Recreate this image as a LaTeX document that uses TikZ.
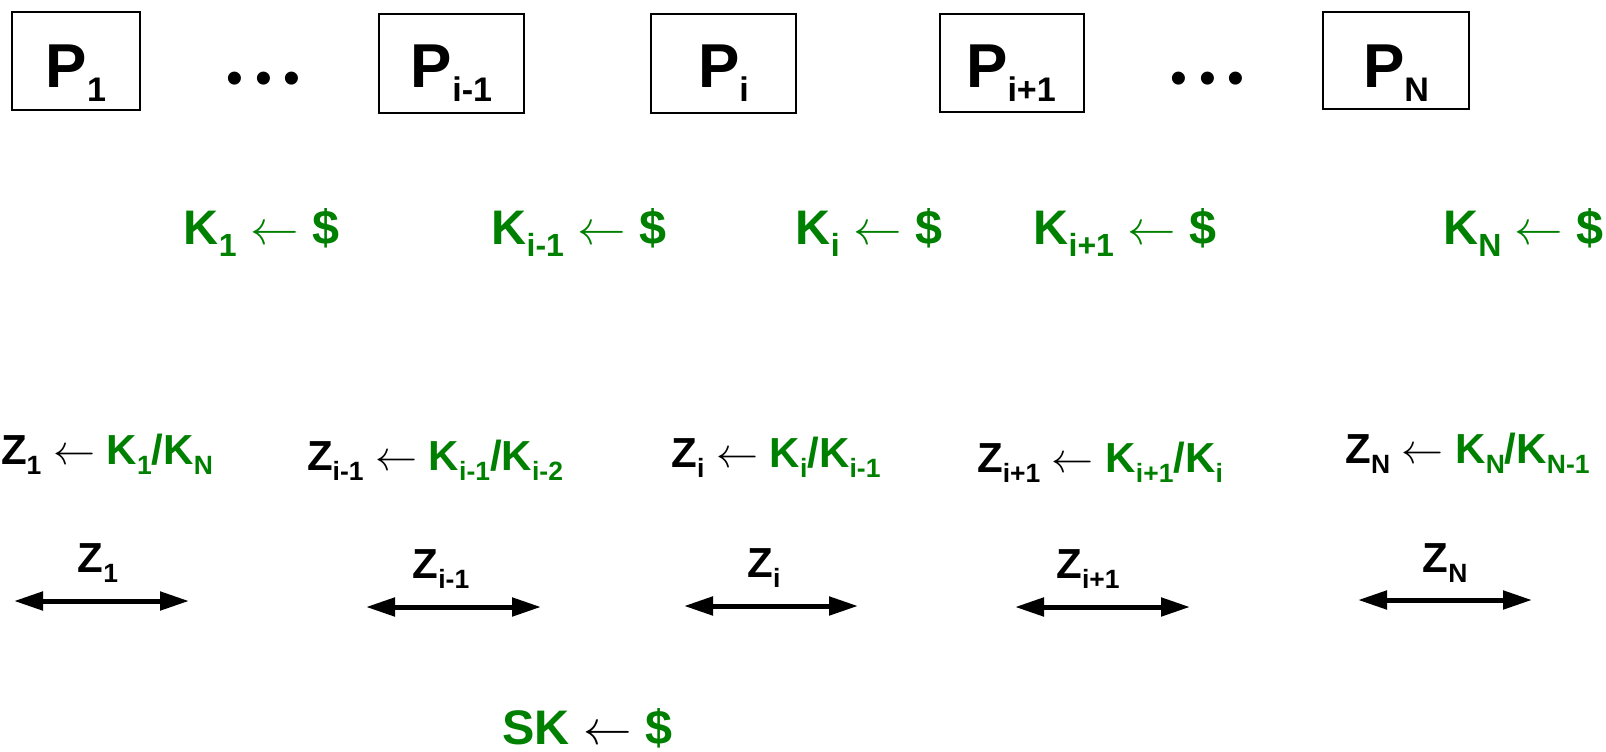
\RequirePackage{fix-cm}
\documentclass[tikz,border=0pt]{standalone}
\usepackage{fontspec}
\setmainfont{Liberation Sans}
\usepackage{graphicx}
\usetikzlibrary{arrows.meta}
\definecolor{pgreen}{RGB}{0,128,0}
\newcommand{\lsub}[3]{\raisebox{-#1em}{\scalebox{#2}{#3}}}
\newcommand{\psb}[1]{\lsub{0.23}{0.55}{#1}}
\newcommand{\ksb}[1]{\lsub{0.25}{0.66}{#1}}
\newcommand{\zsb}[1]{\lsub{0.26}{0.63}{#1}}
\newcommand{\larr}{$\leftarrow$}
\newcommand{\threedots}{•\hspace{0.24em}•\hspace{0.24em}•}
\tikzset{
  pbox/.style={draw, line width=2.5pt, rectangle, inner sep=0pt},
  ptext/.style={anchor=base, inner sep=0pt, font=\fontsize{62}{66}\selectfont\bfseries},
  dotstext/.style={anchor=base, inner sep=0pt, font=\fontsize{48}{52}\selectfont},
  ktext/.style={anchor=base, inner sep=0pt, text=pgreen, font=\fontsize{48.5}{52}\selectfont\bfseries},
  ztext/.style={anchor=base, inner sep=0pt, font=\fontsize{42}{46}\selectfont\bfseries},
  link/.style={line width=5pt, {Triangle[length=29pt,width=18pt]}-{Triangle[length=29pt,width=18pt]}}
}
\begin{document}
\begin{tikzpicture}[x=1pt,y=-1pt]
\path[use as bounding box, fill=white] (0,0) rectangle (1606,752);
% boxes
\node[pbox, minimum width=128pt, minimum height=98pt] (b1) at (76,61) {};
\node[pbox, minimum width=145pt, minimum height=99pt] (b2) at (451.5,63.5) {};
\node[pbox, minimum width=145pt, minimum height=99pt] (b3) at (723.5,63.5) {};
\node[pbox, minimum width=144pt, minimum height=98pt] (b4) at (1012,63) {};
\node[pbox, minimum width=146pt, minimum height=97pt] (b5) at (1396,60.5) {};
\node[ptext] (t1) at (76,87) {P\psb{1}};
\node[ptext] (t2) at (451.5,87) {P\psb{i-1}};
\node[ptext] (t3) at (723.5,87) {P\psb{i}};
\node[ptext] (t4) at (1011,87) {P\psb{i+1}};
\node[ptext] (t5) at (1396,87) {P\psb{N}};
\node[dotstext] (d1) at (263.5,94) {\threedots};
\node[dotstext] (d2) at (1207.5,94) {\threedots};
% K row
\node[ktext] (k1) at (261.5,244) {K\ksb{1} \larr{} \$};
\node[ktext] (k2) at (579,244) {K\ksb{i-1} \larr{} \$};
\node[ktext] (k3) at (869,244) {K\ksb{i} \larr{} \$};
\node[ktext] (k4) at (1125,244) {K\ksb{i+1} \larr{} \$};
\node[ktext] (k5) at (1523.5,244) {K\ksb{N} \larr{} \$};
% Z row
\node[ztext] (z1) at (107,464) {Z\zsb{1} \larr{} \textcolor{pgreen}{K\zsb{1}/K\zsb{N}}};
\node[ztext] (z2) at (435,470) {Z\zsb{i-1} \larr{} \textcolor{pgreen}{K\zsb{i-1}/K\zsb{i-2}}};
\node[ztext] (z3) at (776,467) {Z\zsb{i} \larr{} \textcolor{pgreen}{K\zsb{i}/K\zsb{i-1}}};
\node[ztext] (z4) at (1100,472) {Z\zsb{i+1} \larr{} \textcolor{pgreen}{K\zsb{i+1}/K\zsb{i}}};
\node[ztext] (z5) at (1467.5,463) {Z\zsb{N} \larr{} \textcolor{pgreen}{K\zsb{N}/K\zsb{N-1}}};
% links
\coordinate (a1l) at (14,601);   \coordinate (a1r) at (189,601);
\coordinate (a2l) at (366,607);  \coordinate (a2r) at (541,607);
\coordinate (a3l) at (684,606);  \coordinate (a3r) at (858,606);
\coordinate (a4l) at (1015,607); \coordinate (a4r) at (1190,607);
\coordinate (a5l) at (1358,600); \coordinate (a5r) at (1532,600);
\draw[link] (a1l) -- (a1r);
\draw[link] (a2l) -- (a2r);
\draw[link] (a3l) -- (a3r);
\draw[link] (a4l) -- (a4r);
\draw[link] (a5l) -- (a5r);
\node[ztext] (l1) at (98,572) {Z\zsb{1}};
\node[ztext] (l2) at (441,578) {Z\zsb{i-1}};
\node[ztext] (l3) at (764,577) {Z\zsb{i}};
\node[ztext] (l4) at (1088,578) {Z\zsb{i+1}};
\node[ztext] (l5) at (1445,572) {Z\zsb{N}};
% SK
\node[ktext] (sk) at (587.5,744.5) {SK \textcolor{black}{\larr} \$};
\end{tikzpicture}
\end{document}
